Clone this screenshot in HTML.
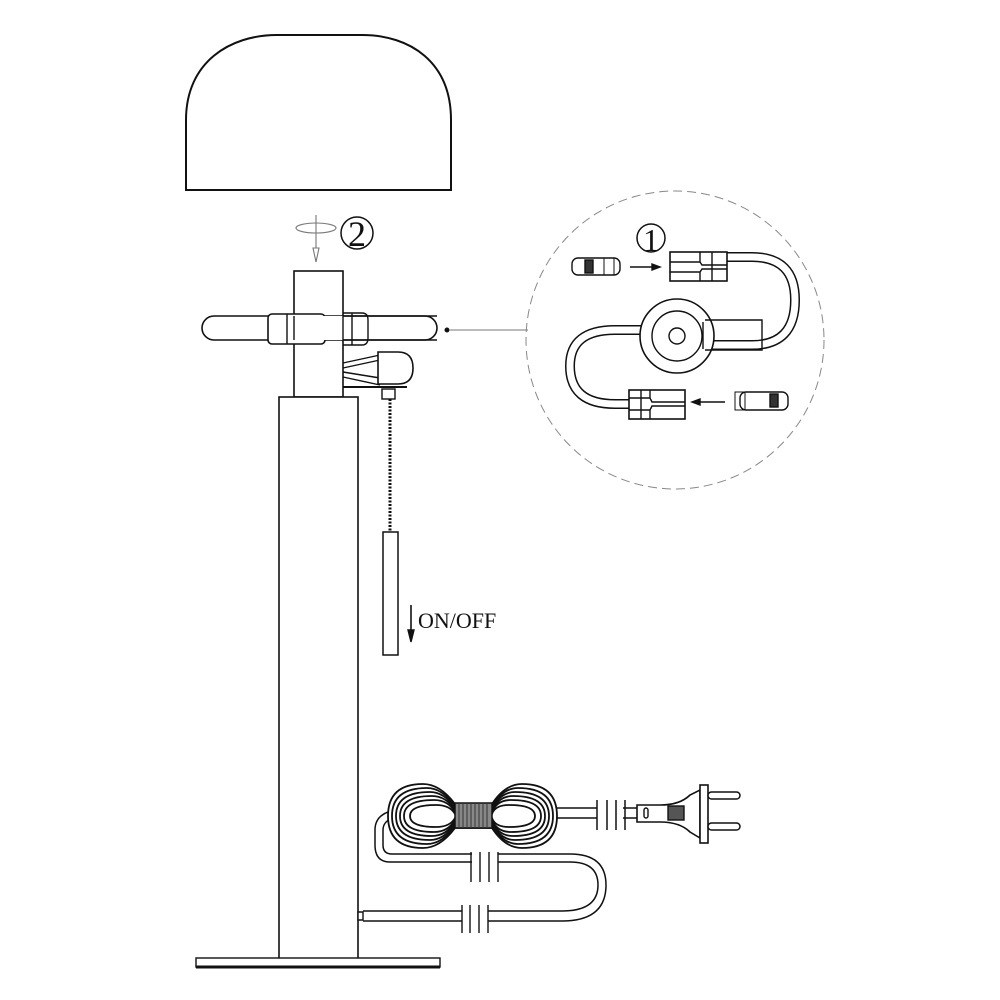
<!DOCTYPE html>
<html><head><meta charset="utf-8"><style>
html,body{margin:0;padding:0;background:#fff;width:1000px;height:1000px;overflow:hidden}
svg{display:block}
</style></head><body>
<svg width="1000" height="1000" viewBox="0 0 1000 1000" xmlns="http://www.w3.org/2000/svg" fill="none" stroke="#111" stroke-width="1.4">
<!-- shade -->
<path d="M186,190 L186,120 C186,62 230,35 277,35 L362,35 C410,35 451,62 451,120 L451,190 Z" stroke-width="2"/>
<!-- rotate arrow 2 -->
<g stroke="#777" stroke-width="1.1">
<ellipse cx="316" cy="228" rx="20" ry="5"/>
<line x1="316" y1="215" x2="316" y2="248"/>
<path d="M313,248 L316,262 L319,248 Z"/>
</g>
<circle cx="357" cy="233" r="16" stroke-width="1.5"/>
<text x="357" y="246" font-family="Liberation Serif,serif" font-size="36" fill="#111" stroke="none" text-anchor="middle">2</text>
<!-- neck -->
<rect x="294" y="271" width="49" height="126" fill="#fff" stroke-width="1.6"/>
<!-- stem -->
<rect x="279" y="397" width="79" height="562" fill="#fff" stroke-width="1.6"/>
<!-- base -->
<rect x="196" y="958" width="244" height="9" fill="#fff"/>
<line x1="196" y1="967" x2="440" y2="967" stroke-width="3"/>
<!-- arm tube -->
<rect x="202" y="316" width="235" height="24" rx="12" fill="#fff" stroke-width="1.6"/>
<rect x="268" y="314" width="57" height="30" rx="4" fill="#fff" stroke-width="1.6"/>
<line x1="287" y1="314" x2="287" y2="344"/>
<rect x="294" y="316" width="49" height="24" fill="#fff" stroke="none"/>
<line x1="294" y1="316" x2="294" y2="340"/><line x1="343" y1="316" x2="343" y2="340"/>
<path d="M343,313 L362,313 Q368,313 368,320 L368,338 Q368,345 362,345 L343,345"/>
<line x1="343" y1="316" x2="437" y2="316" /><line x1="343" y1="340" x2="437" y2="340"/>
<line x1="352" y1="313" x2="352" y2="345"/>
<!-- switch -->
<path d="M343,363 L380,355 M343,368 L380,360 M343,372 L380,378 M343,377 L380,385"/>
<path d="M378,352 L398,352 Q413,352 413,368 Q413,384 398,384 L378,384 Z" fill="#fff" stroke-width="1.6"/>
<line x1="343" y1="387" x2="407" y2="387" stroke-width="2"/>
<rect x="382" y="389" width="13" height="10" fill="#fff"/>
<line x1="390" y1="399" x2="390" y2="532" stroke-width="3" stroke-dasharray="2 1.5"/>
<rect x="383" y="532" width="15" height="123" fill="#fff" stroke-width="1.5"/>
<!-- ON/OFF -->
<line x1="411" y1="605" x2="411" y2="633" stroke-width="1.6"/>
<path d="M408,630 L411,642 L414,630 Z" fill="#111"/>
<text x="418" y="628" font-family="Liberation Serif,serif" font-size="22" fill="#111" stroke="none">ON/OFF</text>
<!-- leader -->
<circle cx="447" cy="330" r="1.8" fill="#111"/>
<line x1="450" y1="330" x2="528" y2="330" stroke="#777" stroke-width="0.9"/>
<circle cx="675" cy="340" r="149" stroke="#888" stroke-width="1" stroke-dasharray="9 5"/>
<!-- detail -->
<circle cx="651" cy="238" r="14" stroke-width="1.5"/>
<text x="651" y="251" font-family="Liberation Serif,serif" font-size="32" fill="#111" stroke="none" text-anchor="middle">1</text>
<!-- cables -->
<path d="M727,257 L752,257 Q795,257 795,300 Q795,345 752,345 L705,345" stroke-width="10" stroke="#111"/>
<path d="M727,257 L752,257 Q795,257 795,300 Q795,345 752,345 L705,345" stroke-width="7" stroke="#fff"/>
<path d="M645,330 L615,330 Q570,330 570,366 Q570,404 615,404 L629,404" stroke-width="10" stroke="#111"/>
<path d="M645,330 L615,330 Q570,330 570,366 Q570,404 615,404 L629,404" stroke-width="7" stroke="#fff"/>
<circle cx="677" cy="336" r="37" fill="#fff" stroke-width="1.6"/>
<circle cx="677" cy="336" r="25" fill="#fff"/>
<circle cx="677" cy="336" r="8"/>
<path d="M705,320 L762,320 L762,350 L705,350"/>
<line x1="703" y1="322" x2="703" y2="349"/>
<!-- top socket -->
<rect x="670" y="252" width="57" height="29" fill="#fff" stroke-width="1.6"/>
<path d="M670,262 L700,262 L702,265 L727,265 M670,272 L700,272 L702,269 L727,269 M700,252 L700,262 M700,272 L700,281 M712,252 L712,281"/>
<!-- bottom socket -->
<rect x="629" y="390" width="56" height="29" fill="#fff" stroke-width="1.6"/>
<path d="M629,398 L650,398 L652,402 L685,402 M629,410 L650,410 L652,406 L685,406 M650,390 L650,398 M650,410 L650,419 M641,390 L641,419"/>
<!-- bulbs -->
<rect x="572" y="258" width="48" height="17" rx="6" fill="#fff"/>
<rect x="585" y="260" width="8" height="13" fill="#333"/>
<rect x="604" y="258" width="10" height="17" stroke-width="1"/>
<line x1="630" y1="267" x2="655" y2="267"/><path d="M652,264 L660,267 L652,270 Z" fill="#111"/>
<rect x="740" y="392" width="48" height="18" rx="6" fill="#fff"/>
<rect x="770" y="394" width="8" height="13" fill="#333"/>
<rect x="735" y="392" width="10" height="18" stroke-width="1"/>
<line x1="697" y1="402" x2="725" y2="402"/><path d="M700,399 L692,402 L700,405 Z" fill="#111"/>
<!-- cord from stem -->
<path d="M358,912 L363,912 L363,920 L358,920 Z" fill="#fff"/>
<path d="M363,911 L562,911 Q598,911 598,885 Q598,862 570,862 L390,862 Q375,862 375,845 L375,830 Q375,817 388,812" stroke-width="1.5"/>
<path d="M363,921 L562,921 Q606,921 606,885 Q606,854 570,854 L392,854 Q383,854 383,845 L383,830 Q383,822 392,818" stroke-width="1.5"/>
<!-- cut marks -->
<rect x="462" y="905" width="26" height="22" fill="#fff" stroke="none"/>
<path d="M462,905 L462,933 M470,905 L470,933 M479,905 L479,933 M488,905 L488,933"/>
<rect x="472" y="850" width="26" height="20" fill="#fff" stroke="none"/>
<path d="M471,852 L471,882 M480,852 L480,882 M489,852 L489,882 M498,852 L498,882"/>
<!-- coil -->
<g stroke-width="1.8">
<path d="M388,816 Q388,784 423,784 Q440,784 455,804 L492,804 Q505,784 522,784 Q557,784 557,816 Q557,848 522,848 Q505,848 492,828 L455,828 Q440,848 423,848 Q388,848 388,816 Z" fill="#fff"/>
<path d="M392,816 Q392,788 427,788 Q442,788 455,806 L492,806 Q503,788 518,788 Q553,788 553,816 Q553,844 518,844 Q503,844 492,826 L455,826 Q442,844 427,844 Q392,844 392,816 Z"/>
<path d="M396,816 Q396,792 430,792 Q444,792 455,808 L492,808 Q501,792 515,792 Q549,792 549,816 Q549,840 515,840 Q501,840 492,824 L455,824 Q444,840 430,840 Q396,840 396,816 Z"/>
<path d="M400,816 Q400,796 432,796 Q446,796 455,810 L492,810 Q499,796 513,796 Q545,796 545,816 Q545,836 513,836 Q499,836 492,822 L455,822 Q446,836 432,836 Q400,836 400,816 Z"/>
<path d="M404,816 Q404,800 434,800 Q448,800 455,812 L492,812 Q497,800 511,800 Q541,800 541,816 Q541,832 511,832 Q497,832 492,820 L455,820 Q448,832 434,832 Q404,832 404,816 Z"/>
<path d="M410,816 Q410,805 436,805 Q450,805 455,814 L492,814 Q495,805 509,805 Q535,805 535,816 Q535,827 509,827 Q495,827 492,818 L455,818 Q450,827 436,827 Q410,827 410,816 Z"/>
</g>
<rect x="455" y="803" width="37" height="25" fill="#888" stroke="#111" stroke-width="1.5"/>
<path d="M459,803 V828 M463,803 V828 M467,803 V828 M471,803 V828 M475,803 V828 M479,803 V828 M483,803 V828 M487,803 V828" stroke="#333" stroke-width="1"/>
<!-- cord to plug -->
<path d="M557,808 L637,808 M557,818 L637,818" stroke-width="1.5"/>
<rect x="597" y="800" width="26" height="26" fill="#fff" stroke="none"/>
<path d="M597,800 L597,830 M607,800 L607,830 M616,800 L616,830 M625,800 L625,830" stroke-width="1.5"/>
<!-- plug -->
<path d="M637,805 L660,805 Q680,805 690,795 L700,790 L700,838 L690,832 Q680,822 660,822 L637,822 Z" fill="#fff" stroke-width="1.6"/>
<rect x="668" y="806" width="16" height="14" fill="#555"/>
<rect x="644" y="808" width="4" height="10" rx="2"/>
<rect x="700" y="785" width="8" height="58" fill="#fff" stroke-width="1.6"/>
<rect x="708" y="792" width="32" height="7" rx="3.5" fill="#fff" stroke-width="1.5"/>
<rect x="708" y="823" width="32" height="7" rx="3.5" fill="#fff" stroke-width="1.5"/>
</svg>
</body></html>
